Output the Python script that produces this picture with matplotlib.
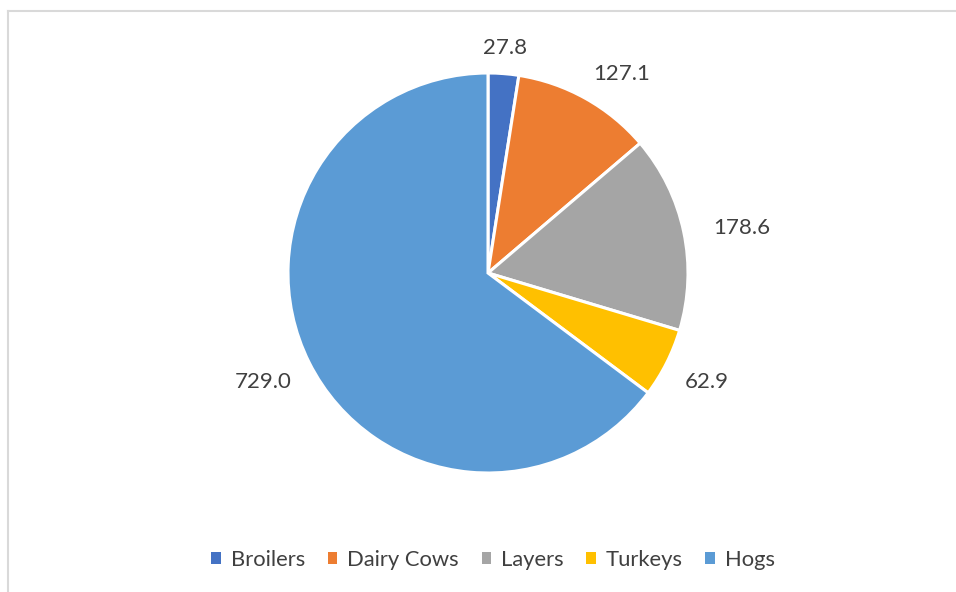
import matplotlib
matplotlib.use("Agg")
import matplotlib.pyplot as plt
import numpy as np
from matplotlib.patches import Patch
from matplotlib.lines import Line2D

categories = ["Broilers", "Dairy Cows", "Layers", "Turkeys", "Hogs"]
values = [27.8, 127.1, 178.6, 62.9, 729.0]
colors = ["#4472C4", "#ED7D31", "#A5A5A5", "#FFC000", "#5B9BD5"]

plt.rcParams['font.family'] = ['Lato', 'DejaVu Sans']
W, H = 956, 592
fig = plt.figure(figsize=(W/100, H/100), dpi=100)

cx, cy, R = 488, 273, 200
ax = fig.add_axes([(cx-R)/W, (H-cy-R)/H, 2*R/W, 2*R/H])
wedges, _ = ax.pie(values, colors=colors, startangle=90, counterclock=False,
                   radius=1, wedgeprops=dict(edgecolor='white', linewidth=2.2))
ax.set_xlim(-1, 1)
ax.set_ylim(-1, 1)
ax.set_aspect('equal')
ax.axis('off')

text_color = '#404040'
for w, v in zip(wedges, values):
    ang = np.deg2rad((w.theta1 + w.theta2) / 2)
    c, s = np.cos(ang), np.sin(ang)
    d = 1.08 if s > 0.5 else 1.1
    x, y = d * c, d * s
    ha = 'center' if abs(c) < 0.2 else ('left' if c > 0 else 'right')
    va = 'bottom' if s > 0.5 else ('top' if s < -0.3 else 'center')
    if ha == 'left' and va == 'center':
        x = 1.15 * c
    ax.text(x, y, f"{v:.1f}", ha=ha, va=va, fontsize=16, color=text_color)

handles = [Patch(facecolor=c, edgecolor='none') for c in colors]
fig.legend(handles, categories, loc='center', bbox_to_anchor=(493/W, 1 - 560/H),
           ncol=5, frameon=False, fontsize=15.8, handlelength=0.42, handleheight=0.42,
           handletextpad=0.45, columnspacing=1.05, labelcolor=text_color)

bc = '#d9d9d9'
fig.add_artist(Line2D([8/W, 1], [1 - 11/H, 1 - 11/H], color=bc, lw=1.5, transform=fig.transFigure))
fig.add_artist(Line2D([8/W, 8/W], [0, 1 - 11/H], color=bc, lw=1.5, transform=fig.transFigure))

fig.savefig("out.png", dpi=100, facecolor='white')
